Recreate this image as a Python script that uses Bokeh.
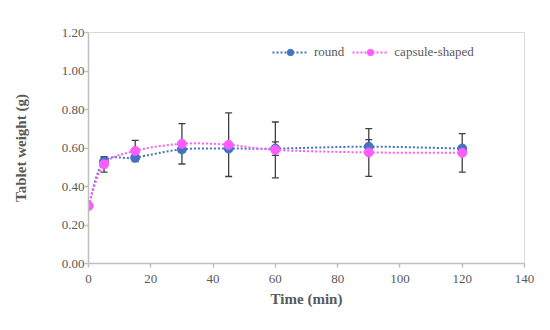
from bokeh.plotting import figure
from bokeh.models import (Range1d, FixedTicker, NumeralTickFormatter, ColumnDataSource,
                          Whisker, TeeHead, Legend, LegendItem)
from bokeh.embed import file_html
from bokeh.resources import INLINE

# ---- data ----
time_min = [0, 5, 15, 30, 45, 60, 90, 120]
round_w = [0.30, 0.530, 0.550, 0.593, 0.597, 0.597, 0.607, 0.597]
round_err = [0.0, 0.020, 0.012, 0.015, 0.015, 0.035, 0.037, 0.012]
capsule_w = [0.30, 0.515, 0.585, 0.622, 0.617, 0.590, 0.577, 0.575]
capsule_err = [0.0, 0.040, 0.055, 0.105, 0.165, 0.145, 0.124, 0.100]
x_ticks = [0, 20, 40, 60, 80, 100, 120, 140]
y_ticks = [0.0, 0.2, 0.4, 0.6, 0.8, 1.0, 1.2]
series_names = ["round", "capsule-shaped"]

BLUE = "#4472C4"
MAGENTA = "#FF5CFF"
GRAY_TXT = "#595959"
FONT = "Liberation Serif"

p = figure(width=539, height=316, output_backend="svg", toolbar_location=None,
           x_range=Range1d(0, 140), y_range=Range1d(0, 1.2),
           min_border_left=83, min_border_right=20, min_border_top=25, min_border_bottom=60)
p.margin = (7, 0, 0, 5)
p.outline_line_color = "#D9D9D9"
p.outline_line_width = 1
p.xgrid.visible = False
p.ygrid.visible = False

for ax in (p.xaxis[0], p.yaxis[0]):
    ax.axis_line_color = "#BFBFBF"
    ax.axis_line_width = 1.5
    ax.major_tick_line_color = "#BFBFBF"
    ax.major_tick_line_width = 1.5
    ax.major_tick_in = 0
    ax.major_tick_out = 4
    ax.minor_tick_line_color = None
    ax.major_label_text_font = FONT
    ax.major_label_text_font_size = "13px"
    ax.major_label_text_color = GRAY_TXT
    ax.axis_label_text_font = FONT
    ax.axis_label_text_font_size = "15px"
    ax.axis_label_text_font_style = "bold"
    ax.axis_label_text_color = GRAY_TXT

p.xaxis.ticker = FixedTicker(ticks=x_ticks)
p.yaxis.ticker = FixedTicker(ticks=y_ticks)
p.yaxis.formatter = NumeralTickFormatter(format="0.00")
p.xaxis.axis_label = "Time (min)"
p.yaxis.axis_label = "Tablet weight (g)"
p.xaxis.major_label_standoff = 7
p.xaxis.axis_label_standoff = 5
p.yaxis.major_label_standoff = 0
p.yaxis.axis_label_standoff = 30


def smooth_segments(xs, ys):
    n = len(xs)
    d = dict(x0=[], y0=[], x1=[], y1=[], cx0=[], cy0=[], cx1=[], cy1=[])
    for i in range(n - 1):
        a = i - 1 if i > 0 else i
        b = i + 2 if i + 2 < n else i + 1
        d["x0"].append(xs[i]); d["y0"].append(ys[i])
        d["x1"].append(xs[i + 1]); d["y1"].append(ys[i + 1])
        d["cx0"].append(xs[i] + (xs[i + 1] - xs[a]) / 6)
        d["cy0"].append(ys[i] + (ys[i + 1] - ys[a]) / 6)
        d["cx1"].append(xs[i + 1] - (xs[b] - xs[i]) / 6)
        d["cy1"].append(ys[i + 1] - (ys[b] - ys[i]) / 6)
    return ColumnDataSource(d)


items = []
for name, ys, errs, col in [(series_names[0], round_w, round_err, BLUE),
                            (series_names[1], capsule_w, capsule_err, MAGENTA)]:
    bz = p.bezier(x0="x0", y0="y0", x1="x1", y1="y1", cx0="cx0", cy0="cy0",
                  cx1="cx1", cy1="cy1", source=smooth_segments(time_min, ys),
                  line_color=col, line_width=2, line_dash="2 2")
    sc = p.scatter(time_min, ys, size=9, marker="circle", fill_color=col, line_color=col)
    idx = [i for i, e in enumerate(errs) if e > 0]
    esrc = ColumnDataSource(dict(x=[time_min[i] for i in idx],
                                 up=[ys[i] + errs[i] for i in idx],
                                 lo=[ys[i] - errs[i] for i in idx]))
    wh = Whisker(base="x", upper="up", lower="lo", source=esrc,
                 line_color="#404040", line_width=1.3,
                 upper_head=TeeHead(size=7, line_color="#404040", line_width=1.3),
                 lower_head=TeeHead(size=7, line_color="#404040", line_width=1.3))
    p.add_layout(wh)
    items.append(LegendItem(label=name, renderers=[bz, sc]))

legend = Legend(items=items, location=(184, 203), orientation="horizontal",
                glyph_width=36, glyph_height=16, label_standoff=6, spacing=8,
                padding=0, margin=0, background_fill_alpha=0, border_line_color=None,
                label_text_font=FONT, label_text_font_size="13px",
                label_text_color=GRAY_TXT)
p.add_layout(legend)

open("out.html", "w").write(file_html(p, INLINE))
